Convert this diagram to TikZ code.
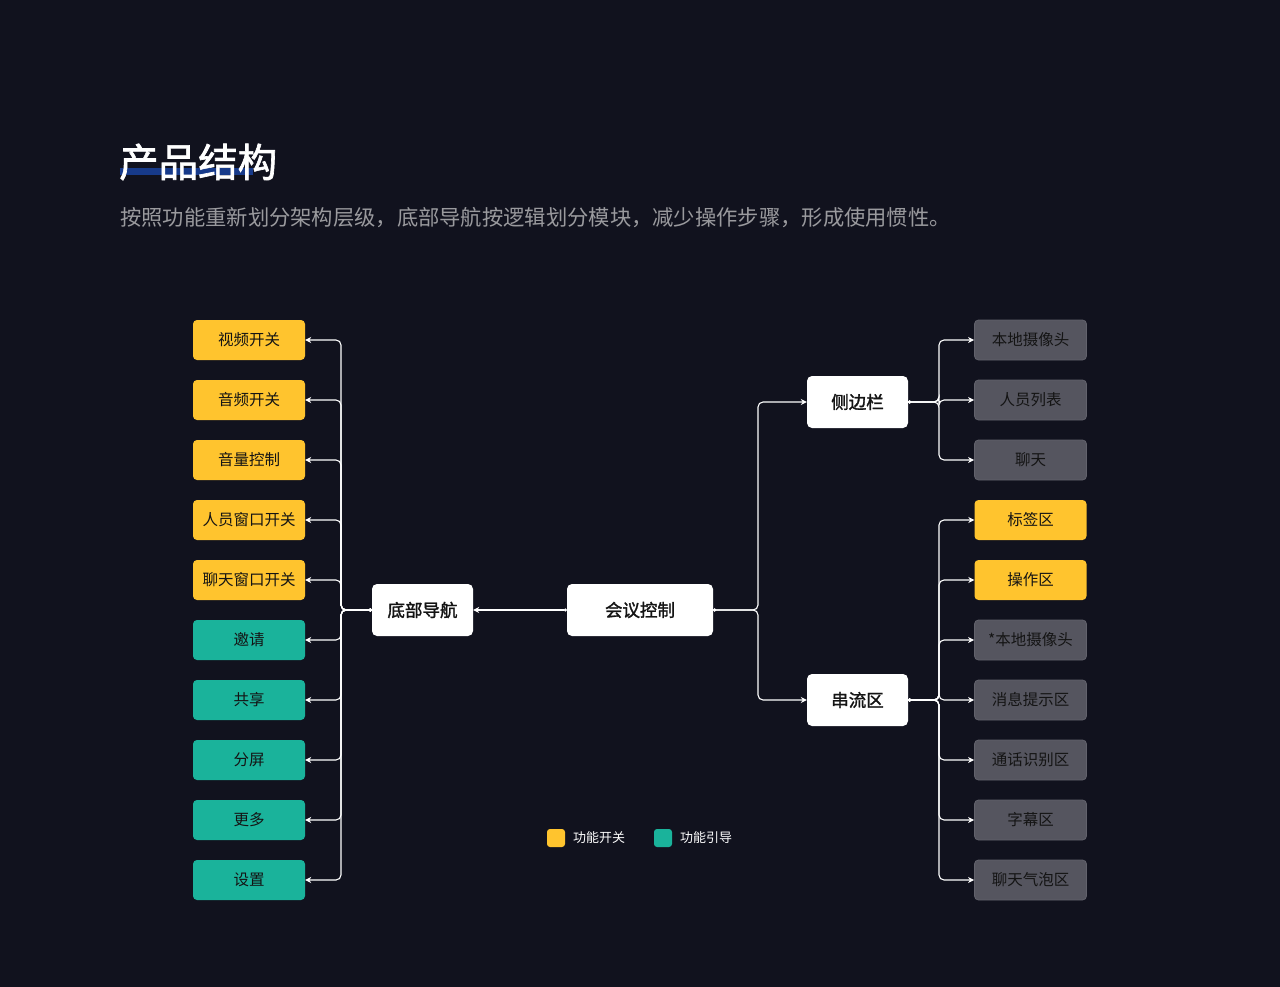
\documentclass[tikz,border=0pt]{standalone}
\usepackage{fontspec}
\setmainfont{Noto Sans CJK SC}
\newfontfamily\medfont{Noto Sans CJK SC}[FakeBold=1.6]
\usetikzlibrary{arrows.meta}
\definecolor{cBg}{HTML}{11121E}
\definecolor{cYellow}{HTML}{FFC42E}
\definecolor{cTeal}{HTML}{1AB39B}
\definecolor{cGray}{HTML}{55555F}
\definecolor{cGrayLine}{HTML}{62626C}
\definecolor{cText}{HTML}{141414}
\definecolor{cSub}{HTML}{9A9A9E}
\definecolor{cBar}{HTML}{173A8A}
\tikzset{
  leaf/.style={rounded corners=4pt, minimum width=112pt, minimum height=40pt, inner sep=0pt,
    font=\fontsize{15.5}{18}\selectfont, text=cText},
  yelbox/.style={leaf, fill=cYellow},
  tealbox/.style={leaf, fill=cTeal},
  graybox/.style={leaf, fill=cGray, draw=cGrayLine, line width=0.8pt},
  hub/.style={fill=white, rounded corners=5pt, minimum height=52pt, inner sep=0pt,
    font=\medfont\fontsize{17.5}{20}\selectfont, text=cText},
  conn/.style={draw=white, line width=1.1pt, rounded corners=5pt,
    {Circle[length=3pt]}-{Stealth[length=6pt,width=6pt]}},
  legendbox/.style={fill=#1, rounded corners=3pt, minimum size=18pt, inner sep=0pt},
  legendtext/.style={font=\fontsize{13}{15}\selectfont, text=white, anchor=west, inner sep=0pt},
}
\begin{document}
\begin{tikzpicture}[x=1pt,y=-1pt]
\fill[cBg] (0,0) rectangle (1280,987);
\useasboundingbox (0,0) rectangle (1280,987);
% title
\fill[cBar] (120,168) rectangle (253,175);
\node[anchor=west, inner sep=0pt, text=white, font=\medfont\fontsize{39.5}{44}\selectfont] (title) at (119,162) {产品结构};
\node[anchor=west, inner sep=0pt, text=cSub, font=\fontsize{21.3}{24}\selectfont] (subtitle) at (120,218) {按照功能重新划分架构层级，底部导航按逻辑划分模块，减少操作步骤，形成使用惯性。};
% hubs
\node[hub, minimum width=101pt] (dbdh) at (422.5,610) {底部导航};
\node[hub, minimum width=146pt] (hykz) at (640,610) {会议控制};
\node[hub, minimum width=101pt] (cbl) at (857.5,402) {侧边栏};
\node[hub, minimum width=101pt] (cll) at (857.5,700) {串流区};
% left leaves
\foreach \t/\s [count=\i] in {视频开关/yelbox, 音频开关/yelbox, 音量控制/yelbox, 人员窗口开关/yelbox, 聊天窗口开关/yelbox, 邀请/tealbox, 共享/tealbox, 分屏/tealbox, 更多/tealbox, 设置/tealbox}{
  \node[\s] (L\i) at (249,280+60*\i) {\t};
  \draw[conn] (dbdh.west) -- (341,610) |- (L\i.east);
}
% side bar leaves
\foreach \t/\s [count=\i] in {本地摄像头/graybox, 人员列表/graybox, 聊天/graybox}{
  \node[\s] (S\i) at (1030.5,280+60*\i) {\t};
  \draw[conn] (cbl.east) -- (939,402) |- (S\i.west);
}
% stream leaves
\foreach \t/\s [count=\i] in {标签区/yelbox, 操作区/yelbox, *本地摄像头/graybox, 消息提示区/graybox, 通话识别区/graybox, 字幕区/graybox, 聊天气泡区/graybox}{
  \node[\s] (C\i) at (1030.5,460+60*\i) {\t};
  \draw[conn] (cll.east) -- (939,700) |- (C\i.west);
}
% center connectors
\draw[conn] (hykz.west) -- (dbdh.east);
\draw[conn] (hykz.east) -- (758,610) |- (cbl.west);
\draw[conn] (hykz.east) -- (758,610) |- (cll.west);
% legend
\node[legendbox=cYellow] (lg1) at (556,838) {};
\node[legendtext] (lt1) at (573,838) {功能开关};
\node[legendbox=cTeal] (lg2) at (663,838) {};
\node[legendtext] (lt2) at (680,838) {功能引导};
\end{tikzpicture}
\end{document}
